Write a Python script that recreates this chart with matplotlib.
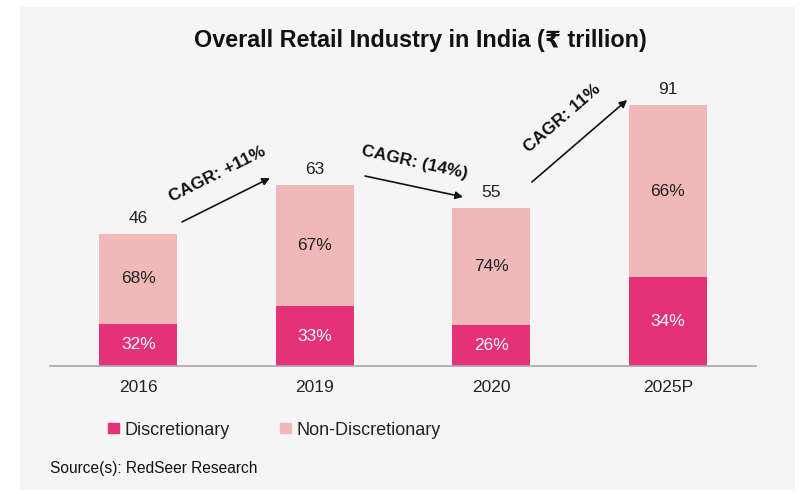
import matplotlib.pyplot as plt
from matplotlib.patches import Rectangle, Patch

years = ['2016', '2019', '2020', '2025P']
totals = [46, 63, 55, 91]
disc_pct = [32, 33, 26, 34]
non_disc_pct = [68, 67, 74, 66]
cagr_labels = ['CAGR: +11%', 'CAGR: (14%)', 'CAGR: 11%']

disc_color = '#E5307A'
non_disc_color = '#F0B8B8'

plt.rcParams['font.family'] = ['Liberation Sans', 'DejaVu Sans']

fig = plt.figure(figsize=(8.12, 4.94), dpi=100)
fig.patch.set_facecolor('white')
fig.patches.append(Rectangle((20 / 812, 1 - 490 / 494), 775 / 812, 483 / 494,
                             transform=fig.transFigure, facecolor='#f5f5f5',
                             edgecolor='none', zorder=-5))

ax = fig.add_axes([50 / 812, 128 / 494, 706 / 812, 287 / 494])
ax.set_facecolor('none')
ax.set_zorder(2)

x = list(range(len(years)))
disc_vals = [t * p / 100 for t, p in zip(totals, disc_pct)]
non_disc_vals = [t - d for t, d in zip(totals, disc_vals)]

ax.bar(x, disc_vals, width=0.44, color=disc_color, zorder=2)
ax.bar(x, non_disc_vals, width=0.44, bottom=disc_vals, color=non_disc_color, zorder=2)

for i in x:
    ax.text(i, disc_vals[i] / 2, f'{disc_pct[i]}%', ha='center', va='center',
            color='white', fontsize=12.5)
    ax.text(i, disc_vals[i] + non_disc_vals[i] / 2, f'{non_disc_pct[i]}%',
            ha='center', va='center', color='#222222', fontsize=12.5)
    ax.text(i, totals[i] + 5.5, str(totals[i]), ha='center', va='center',
            color='#222222', fontsize=12.5)

ax.set_xlim(-0.5, 3.5)
ax.set_ylim(0, 100)
ax.set_xticks(x)
ax.set_xticklabels(years, fontsize=12.5, color='#222222')
ax.tick_params(axis='x', length=0, pad=10)
ax.set_yticks([])
for s in ['top', 'right', 'left']:
    ax.spines[s].set_visible(False)
ax.spines['bottom'].set_color('#a6a6a6')
ax.spines['bottom'].set_linewidth(1.2)

# CAGR arrows between bars
arrows = [((0.248, 50.2), (0.746, 65.5)),
          ((1.285, 66.2), (1.84, 58.9)),
          ((2.23, 64.1), (2.77, 92.7))]
text_pos = [(0.45, 66.8, 26.6), (1.568, 71.0, -12.5), (2.40, 86.4, 40.8)]
for (tail, head), (tx, ty, rot), lab in zip(arrows, text_pos, cagr_labels):
    ax.annotate('', xy=head, xytext=tail,
                arrowprops=dict(arrowstyle='-|>', color='#111111', lw=1.2,
                                mutation_scale=11, shrinkA=0, shrinkB=0))
    ax.text(tx, ty, lab, ha='center', va='center', rotation=rot,
            rotation_mode='anchor', fontsize=12.5, fontweight='bold', color='#111111')

fig.text(420 / 812, 1 - 40 / 494, 'Overall Retail Industry in India (₹ trillion)',
         ha='center', va='center', fontsize=16.8, fontweight='bold', color='#111111')

handles = [Patch(color=disc_color, label='Discretionary'),
           Patch(color=non_disc_color, label='Non-Discretionary')]
fig.legend(handles=handles, loc='center left', bbox_to_anchor=(92 / 812, 1 - 430 / 494),
           ncol=2, frameon=False, fontsize=13, handlelength=0.6, handleheight=0.45,
           handletextpad=0.3, columnspacing=2.8, labelcolor='#222222')

fig.text(50 / 812, 1 - 468 / 494, 'Source(s): RedSeer Research', ha='left', va='center',
         fontsize=11.2, color='#111111')

fig.savefig('out.png', dpi=100)
